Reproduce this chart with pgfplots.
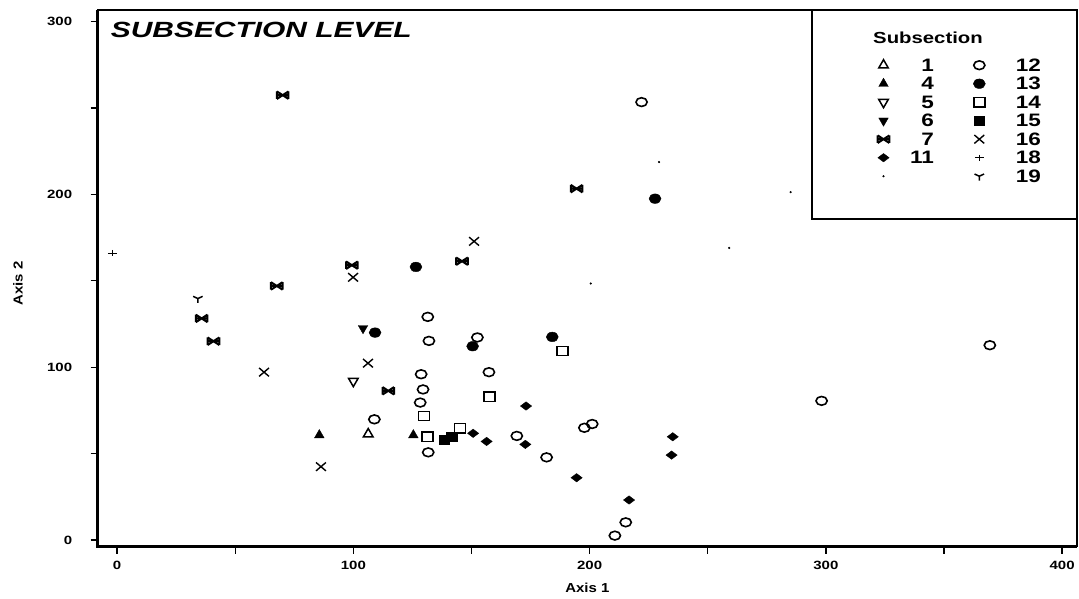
\documentclass[border=0pt]{standalone}
\usepackage{pgfplots}
\pgfplotsset{compat=1.18}
\usepackage{fontspec}
\setmainfont{Liberation Sans}
\usepackage{graphicx}
\newcommand\hs[2][1.25]{\scalebox{#1}[1]{#2}}
\newcommand\lL[1]{\makebox[44.5pt][r]{\hs{#1}}\hspace*{39.5pt}}
\newcommand\lR[1]{\makebox[55.5pt][r]{\hs{#1}}}
\pgfdeclareplotmark{bowtie}{%
 \pgfpathmoveto{\pgfqpoint{-\pgfplotmarksize}{-0.65\pgfplotmarksize}}%
 \pgfpathlineto{\pgfqpoint{\pgfplotmarksize}{0.65\pgfplotmarksize}}%
 \pgfpathmoveto{\pgfqpoint{-\pgfplotmarksize}{0.65\pgfplotmarksize}}%
 \pgfpathlineto{\pgfqpoint{\pgfplotmarksize}{-0.65\pgfplotmarksize}}%
 \pgfpathmoveto{\pgfqpoint{-\pgfplotmarksize}{0pt}}%
 \pgfpathlineto{\pgfqpoint{\pgfplotmarksize}{0pt}}%
 \pgfpathmoveto{\pgfqpoint{-\pgfplotmarksize}{-0.65\pgfplotmarksize}}%
 \pgfpathlineto{\pgfqpoint{-\pgfplotmarksize}{0.65\pgfplotmarksize}}%
 \pgfpathmoveto{\pgfqpoint{\pgfplotmarksize}{-0.65\pgfplotmarksize}}%
 \pgfpathlineto{\pgfqpoint{\pgfplotmarksize}{0.65\pgfplotmarksize}}%
 \pgfusepathqstroke}
\begin{document}
\begin{tikzpicture}
\begin{axis}[
 name=ax, scale only axis, width=979.3pt, height=536.5pt,
 xmin=-8.2, xmax=406.3, ymin=-3.8, ymax=306.7,
 clip=false,
 xtick={0,100,200,300,400}, ytick={0,100,200,300},
 minor x tick num=1, minor y tick num=1,
 tick pos=left, tick align=outside,
 major tick length=7pt, minor tick length=7pt,
 every tick/.style={black, line width=1.3pt},
 axis line style={line width=1.5pt},
 /pgf/number format/assume math mode=true,
 ticklabel style={font=\fontsize{12}{13}\selectfont\bfseries},
 xticklabel={\hs[1.25]{\pgfmathprintnumber{\tick}}},
 yticklabel={\hs[1.25]{\pgfmathprintnumber{\tick}}},
 yticklabel style={xshift=-15pt},
 xticklabel style={yshift=-4pt},
 xlabel={\hs[1.15]{Axis 1}}, ylabel={\hs[1.15]{Axis 2}},
 label style={font=\fontsize{13}{14}\selectfont\bfseries},
 xlabel style={at={(axis description cs:0.5,-0.0773)}, anchor=center},
 ylabel style={at={(axis description cs:-0.0814,0.49)}, anchor=center},
 legend columns=2,
 legend style={at={(rel axis cs:0.7963,0.9147)}, anchor=north west,
   draw=none, fill=none, inner sep=0pt,
   font=\fontsize{18}{18}\selectfont\bfseries,
   nodes={text height=12.5pt, text depth=0pt, inner ysep=3pt, inner xsep=0pt}},
]
% row 1
\addplot[only marks, black, mark=triangle, mark size=5.5pt, mark options={line width=1.5pt}] coordinates {(106.3,61.3)};
\addlegendentry{\lL{1}}
\addplot[only marks, black, mark=o, mark size=5.6pt, mark options={yscale=0.78, line width=1.6pt}] coordinates {(222,253.4) (369.4,112.7) (298.2,80.5) (131.5,129.1) (132,115.2) (152.5,117.2) (128.7,95.9) (129.5,87.1) (128.3,79.5) (157.4,97.1) (108.9,69.8) (131.7,50.7) (169.2,60.2) (197.8,64.9) (201.1,67.1) (181.8,47.8) (215.3,10.2) (210.7,2.5)};
\addlegendentry{\lR{12}}
% row 2
\addplot[only marks, black, mark=triangle*, mark size=5.5pt] coordinates {(85.6,60.7) (125.4,60.7)};
\addlegendentry{\lL{4}}
\addplot[only marks, black, mark=*, mark size=6pt, mark options={yscale=0.8}] coordinates {(227.7,197.5) (184.2,117.5) (150.5,112.1) (109.2,120) (126.5,158)};
\addlegendentry{\lR{13}}
% row 3
\addplot[only marks, black, mark=triangle, mark size=5.5pt, mark options={rotate=180, line width=1.5pt}] coordinates {(100,91.9)};
\addlegendentry{\lL{5}}
\addplot[only marks, black, mark=square, mark size=4.6pt, mark options={xscale=1.2, line width=1.6pt}] coordinates {(188.6,109.4) (157.6,82.8) (129.9,71.7) (131.5,59.7) (145.2,64.7)};
\addlegendentry{\lR{14}}
% row 4
\addplot[only marks, black, mark=triangle*, mark size=5.5pt, mark options={rotate=180}] coordinates {(104.1,122.5)};
\addlegendentry{\lL{6}}
\addplot[only marks, black, mark=square*, mark size=4.6pt, mark options={xscale=1.15}] coordinates {(138.5,57.8) (141.6,59.7)};
\addlegendentry{\lR{15}}
% row 5
\addplot[only marks, black, mark=bowtie, mark size=5.8pt, mark options={line width=2pt}] coordinates {(70.1,257.4) (194.5,203.3) (35.8,128.2) (40.8,115) (67.6,147) (99.4,159) (146,161.3) (114.8,86.3)};
\addlegendentry{\lL{7}}
\addplot[only marks, black, mark=x, mark size=7pt, mark options={yscale=0.85, line width=1.4pt}] coordinates {(151.1,172.8) (99.9,152) (106.2,102.3) (62.2,97.1) (86.3,42.4)};
\addlegendentry{\lR{16}}
% row 6
\addplot[only marks, black, mark=diamond*, mark size=5.6pt, mark options={rotate=90}] coordinates {(150.7,61.7) (156.4,57) (172.8,55.3) (173.1,77.5) (194.5,36) (216.7,23.1) (235.2,59.7) (234.7,49.1)};
\addlegendentry{\lL{11}}
\addplot[only marks, black, mark=+, mark size=4.5pt, mark options={yscale=0.7, line width=1.2pt}] coordinates {(-2,166)};
\addlegendentry{\lR{18}}
% row 7
\addplot[only marks, black, mark=*, mark size=0.9pt] coordinates {(200.5,148.4) (259.1,169) (285.1,201.3) (229.4,218.7)};
\addlegendentry{\lL{}}
\addplot[only marks, black, mark=Mercedes star flipped, mark size=5.5pt, mark options={yscale=0.8, line width=1.5pt}] coordinates {(34.2,139.7)};
\addlegendentry{\lR{19}}
\draw[line width=2.5pt] (rel axis cs:0,1) -- (rel axis cs:0,0) -- (rel axis cs:1,0);
\draw[line width=1.5pt] (rel axis cs:0.7294,1) |- (rel axis cs:1,0.6104);
\node[anchor=north west, inner sep=0pt, font=\fontsize{22}{24}\selectfont\bfseries\itshape] at (rel axis cs:0,1) [xshift=13pt, yshift=-11.5pt] {\hs[1.36]{SUBSECTION LEVEL}};
\node[anchor=west, inner sep=0pt, font=\fontsize{16}{17}\selectfont\bfseries] at (rel axis cs:0.7917,0.9487) {\hs[1.27]{Subsection}};
\end{axis}
\pgfresetboundingbox
\path (ax.south west) ++(-97.7pt,-51.5pt) rectangle ++(1079pt,598pt);
\end{tikzpicture}
\end{document}
